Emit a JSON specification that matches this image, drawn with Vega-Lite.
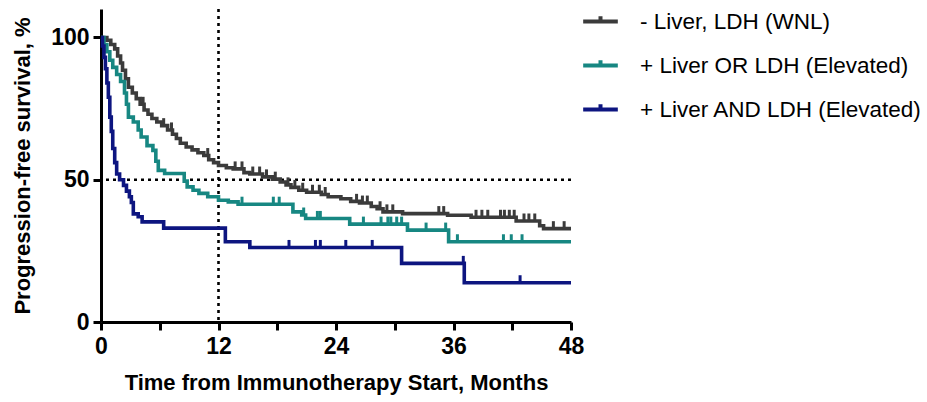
{
  "$schema": "https://vega.github.io/schema/vega-lite/v6.json",
  "autosize": "none",
  "width": 470,
  "height": 313,
  "padding": {"left": 101, "top": 9, "right": 356, "bottom": 80},
  "background": "white",
  "config": {
    "view": {"stroke": null},
    "font": "Liberation Sans",
    "axis": {
      "grid": false,
      "domainColor": "black",
      "domainWidth": 3,
      "tickColor": "black",
      "tickWidth": 3,
      "tickSize": 8,
      "labelFont": "Liberation Sans",
      "labelFontWeight": "bold",
      "labelFontSize": 23,
      "labelColor": "black",
      "titleFont": "Liberation Sans",
      "titleFontWeight": "bold",
      "titleFontSize": 22,
      "titleColor": "black"
    },
    "legend": {
      "labelFont": "Liberation Sans",
      "labelFontSize": 22.5,
      "labelColor": "black",
      "labelLimit": 400
    }
  },
  "datasets": {
    "curves": [
      {"group": "- Liver, LDH (WNL)", "month": 0, "surv": 100},
      {"group": "- Liver, LDH (WNL)", "month": 0.6, "surv": 99},
      {"group": "- Liver, LDH (WNL)", "month": 1.0, "surv": 97.5},
      {"group": "- Liver, LDH (WNL)", "month": 1.4, "surv": 96},
      {"group": "- Liver, LDH (WNL)", "month": 1.7, "surv": 93.5},
      {"group": "- Liver, LDH (WNL)", "month": 2.0, "surv": 91},
      {"group": "- Liver, LDH (WNL)", "month": 2.2, "surv": 88.5},
      {"group": "- Liver, LDH (WNL)", "month": 2.5, "surv": 85.5},
      {"group": "- Liver, LDH (WNL)", "month": 2.8, "surv": 82.5},
      {"group": "- Liver, LDH (WNL)", "month": 3.2, "surv": 80.5},
      {"group": "- Liver, LDH (WNL)", "month": 3.6, "surv": 78.5},
      {"group": "- Liver, LDH (WNL)", "month": 4.0, "surv": 76.5},
      {"group": "- Liver, LDH (WNL)", "month": 4.4, "surv": 74.5},
      {"group": "- Liver, LDH (WNL)", "month": 4.8, "surv": 73},
      {"group": "- Liver, LDH (WNL)", "month": 5.2, "surv": 71.5},
      {"group": "- Liver, LDH (WNL)", "month": 5.7, "surv": 70.3},
      {"group": "- Liver, LDH (WNL)", "month": 6.2, "surv": 69},
      {"group": "- Liver, LDH (WNL)", "month": 6.8, "surv": 67.5},
      {"group": "- Liver, LDH (WNL)", "month": 7.3, "surv": 66},
      {"group": "- Liver, LDH (WNL)", "month": 7.7, "surv": 64.5},
      {"group": "- Liver, LDH (WNL)", "month": 8.1, "surv": 62.8},
      {"group": "- Liver, LDH (WNL)", "month": 8.7, "surv": 61.5},
      {"group": "- Liver, LDH (WNL)", "month": 9.3, "surv": 60.5},
      {"group": "- Liver, LDH (WNL)", "month": 9.9, "surv": 59.5},
      {"group": "- Liver, LDH (WNL)", "month": 10.5, "surv": 58.5},
      {"group": "- Liver, LDH (WNL)", "month": 11.0, "surv": 57},
      {"group": "- Liver, LDH (WNL)", "month": 11.5, "surv": 56},
      {"group": "- Liver, LDH (WNL)", "month": 12.0, "surv": 55},
      {"group": "- Liver, LDH (WNL)", "month": 12.8, "surv": 54.2},
      {"group": "- Liver, LDH (WNL)", "month": 13.5, "surv": 53.8},
      {"group": "- Liver, LDH (WNL)", "month": 14.6, "surv": 52.5},
      {"group": "- Liver, LDH (WNL)", "month": 15.2, "surv": 52},
      {"group": "- Liver, LDH (WNL)", "month": 16.5, "surv": 51},
      {"group": "- Liver, LDH (WNL)", "month": 17.5, "surv": 50.2},
      {"group": "- Liver, LDH (WNL)", "month": 18.3, "surv": 49.2},
      {"group": "- Liver, LDH (WNL)", "month": 18.9, "surv": 48.2},
      {"group": "- Liver, LDH (WNL)", "month": 19.4, "surv": 47.3},
      {"group": "- Liver, LDH (WNL)", "month": 20.2, "surv": 46.3},
      {"group": "- Liver, LDH (WNL)", "month": 21.0, "surv": 45.6},
      {"group": "- Liver, LDH (WNL)", "month": 22.5, "surv": 44.8},
      {"group": "- Liver, LDH (WNL)", "month": 23.2, "surv": 44},
      {"group": "- Liver, LDH (WNL)", "month": 24.5, "surv": 43.3},
      {"group": "- Liver, LDH (WNL)", "month": 25.5, "surv": 42.4},
      {"group": "- Liver, LDH (WNL)", "month": 26.4, "surv": 41.8},
      {"group": "- Liver, LDH (WNL)", "month": 27.6, "surv": 40.6},
      {"group": "- Liver, LDH (WNL)", "month": 28.2, "surv": 39.8},
      {"group": "- Liver, LDH (WNL)", "month": 28.8, "surv": 38.7},
      {"group": "- Liver, LDH (WNL)", "month": 30.8, "surv": 38.1},
      {"group": "- Liver, LDH (WNL)", "month": 35.4, "surv": 37.5},
      {"group": "- Liver, LDH (WNL)", "month": 37.8, "surv": 36.8},
      {"group": "- Liver, LDH (WNL)", "month": 42.4, "surv": 35.5},
      {"group": "- Liver, LDH (WNL)", "month": 44.8, "surv": 33.8},
      {"group": "- Liver, LDH (WNL)", "month": 45.2, "surv": 32.8},
      {"group": "- Liver, LDH (WNL)", "month": 48, "surv": 32.8},
      {"group": "+ Liver OR LDH (Elevated)", "month": 0, "surv": 100},
      {"group": "+ Liver OR LDH (Elevated)", "month": 0.3, "surv": 97.5},
      {"group": "+ Liver OR LDH (Elevated)", "month": 0.6, "surv": 95},
      {"group": "+ Liver OR LDH (Elevated)", "month": 0.9, "surv": 92},
      {"group": "+ Liver OR LDH (Elevated)", "month": 1.2, "surv": 89.5},
      {"group": "+ Liver OR LDH (Elevated)", "month": 1.6, "surv": 87},
      {"group": "+ Liver OR LDH (Elevated)", "month": 2.0, "surv": 84.5},
      {"group": "+ Liver OR LDH (Elevated)", "month": 2.4, "surv": 80.5},
      {"group": "+ Liver OR LDH (Elevated)", "month": 2.6, "surv": 76.5},
      {"group": "+ Liver OR LDH (Elevated)", "month": 2.8, "surv": 72},
      {"group": "+ Liver OR LDH (Elevated)", "month": 3.3, "surv": 70.3},
      {"group": "+ Liver OR LDH (Elevated)", "month": 3.8, "surv": 67.5},
      {"group": "+ Liver OR LDH (Elevated)", "month": 4.1, "surv": 65},
      {"group": "+ Liver OR LDH (Elevated)", "month": 4.7, "surv": 62},
      {"group": "+ Liver OR LDH (Elevated)", "month": 5.3, "surv": 60.3},
      {"group": "+ Liver OR LDH (Elevated)", "month": 5.6, "surv": 56.5},
      {"group": "+ Liver OR LDH (Elevated)", "month": 5.85, "surv": 53.3},
      {"group": "+ Liver OR LDH (Elevated)", "month": 6.5, "surv": 52.2},
      {"group": "+ Liver OR LDH (Elevated)", "month": 8.5, "surv": 49.5},
      {"group": "+ Liver OR LDH (Elevated)", "month": 8.8, "surv": 47.5},
      {"group": "+ Liver OR LDH (Elevated)", "month": 9.4, "surv": 46.3},
      {"group": "+ Liver OR LDH (Elevated)", "month": 10.0, "surv": 45.2},
      {"group": "+ Liver OR LDH (Elevated)", "month": 10.9, "surv": 44},
      {"group": "+ Liver OR LDH (Elevated)", "month": 12.0, "surv": 42.8},
      {"group": "+ Liver OR LDH (Elevated)", "month": 13.0, "surv": 42.2},
      {"group": "+ Liver OR LDH (Elevated)", "month": 14.0, "surv": 41.4},
      {"group": "+ Liver OR LDH (Elevated)", "month": 19.6, "surv": 38.7},
      {"group": "+ Liver OR LDH (Elevated)", "month": 20.5, "surv": 37.6},
      {"group": "+ Liver OR LDH (Elevated)", "month": 20.9, "surv": 36.4},
      {"group": "+ Liver OR LDH (Elevated)", "month": 25.4, "surv": 34.4},
      {"group": "+ Liver OR LDH (Elevated)", "month": 31.3, "surv": 32.3},
      {"group": "+ Liver OR LDH (Elevated)", "month": 35.5, "surv": 28.2},
      {"group": "+ Liver OR LDH (Elevated)", "month": 48, "surv": 28.2},
      {"group": "+ Liver AND LDH (Elevated)", "month": 0, "surv": 100},
      {"group": "+ Liver AND LDH (Elevated)", "month": 0.15, "surv": 97},
      {"group": "+ Liver AND LDH (Elevated)", "month": 0.3, "surv": 93},
      {"group": "+ Liver AND LDH (Elevated)", "month": 0.45, "surv": 89},
      {"group": "+ Liver AND LDH (Elevated)", "month": 0.6, "surv": 84},
      {"group": "+ Liver AND LDH (Elevated)", "month": 0.75, "surv": 79},
      {"group": "+ Liver AND LDH (Elevated)", "month": 0.9, "surv": 72},
      {"group": "+ Liver AND LDH (Elevated)", "month": 1.05, "surv": 67},
      {"group": "+ Liver AND LDH (Elevated)", "month": 1.2, "surv": 61},
      {"group": "+ Liver AND LDH (Elevated)", "month": 1.4, "surv": 56},
      {"group": "+ Liver AND LDH (Elevated)", "month": 1.6, "surv": 52},
      {"group": "+ Liver AND LDH (Elevated)", "month": 1.9, "surv": 50},
      {"group": "+ Liver AND LDH (Elevated)", "month": 2.3, "surv": 48},
      {"group": "+ Liver AND LDH (Elevated)", "month": 2.6, "surv": 46},
      {"group": "+ Liver AND LDH (Elevated)", "month": 2.9, "surv": 44},
      {"group": "+ Liver AND LDH (Elevated)", "month": 3.1, "surv": 42},
      {"group": "+ Liver AND LDH (Elevated)", "month": 3.3, "surv": 38},
      {"group": "+ Liver AND LDH (Elevated)", "month": 3.8, "surv": 37},
      {"group": "+ Liver AND LDH (Elevated)", "month": 4.2, "surv": 35.2},
      {"group": "+ Liver AND LDH (Elevated)", "month": 6.4, "surv": 33},
      {"group": "+ Liver AND LDH (Elevated)", "month": 12.7, "surv": 28.2},
      {"group": "+ Liver AND LDH (Elevated)", "month": 15.2, "surv": 26.2},
      {"group": "+ Liver AND LDH (Elevated)", "month": 30.7, "surv": 20.6},
      {"group": "+ Liver AND LDH (Elevated)", "month": 37.1, "surv": 13.8},
      {"group": "+ Liver AND LDH (Elevated)", "month": 48, "surv": 13.8}
    ],
    "censors": [
      {"group": "- Liver, LDH (WNL)", "month": 4.3, "surv": 76.5},
      {"group": "- Liver, LDH (WNL)", "month": 6.4, "surv": 69},
      {"group": "- Liver, LDH (WNL)", "month": 7.2, "surv": 67.5},
      {"group": "- Liver, LDH (WNL)", "month": 10.9, "surv": 58.5},
      {"group": "- Liver, LDH (WNL)", "month": 13.7, "surv": 53.8},
      {"group": "- Liver, LDH (WNL)", "month": 14.4, "surv": 53.8},
      {"group": "- Liver, LDH (WNL)", "month": 15.5, "surv": 52},
      {"group": "- Liver, LDH (WNL)", "month": 16.2, "surv": 52},
      {"group": "- Liver, LDH (WNL)", "month": 16.9, "surv": 51},
      {"group": "- Liver, LDH (WNL)", "month": 17.8, "surv": 50.2},
      {"group": "- Liver, LDH (WNL)", "month": 19.1, "surv": 48.2},
      {"group": "- Liver, LDH (WNL)", "month": 19.8, "surv": 47.3},
      {"group": "- Liver, LDH (WNL)", "month": 20.6, "surv": 46.3},
      {"group": "- Liver, LDH (WNL)", "month": 21.6, "surv": 45.6},
      {"group": "- Liver, LDH (WNL)", "month": 22.3, "surv": 45.6},
      {"group": "- Liver, LDH (WNL)", "month": 22.9, "surv": 44.8},
      {"group": "- Liver, LDH (WNL)", "month": 26.1, "surv": 42.4},
      {"group": "- Liver, LDH (WNL)", "month": 26.7, "surv": 41.8},
      {"group": "- Liver, LDH (WNL)", "month": 27.2, "surv": 41.8},
      {"group": "- Liver, LDH (WNL)", "month": 28.5, "surv": 39.8},
      {"group": "- Liver, LDH (WNL)", "month": 29.2, "surv": 38.7},
      {"group": "- Liver, LDH (WNL)", "month": 29.8, "surv": 38.7},
      {"group": "- Liver, LDH (WNL)", "month": 34.5, "surv": 38.1},
      {"group": "- Liver, LDH (WNL)", "month": 35.0, "surv": 38.1},
      {"group": "- Liver, LDH (WNL)", "month": 38.3, "surv": 36.8},
      {"group": "- Liver, LDH (WNL)", "month": 38.9, "surv": 36.8},
      {"group": "- Liver, LDH (WNL)", "month": 39.5, "surv": 36.8},
      {"group": "- Liver, LDH (WNL)", "month": 40.8, "surv": 36.8},
      {"group": "- Liver, LDH (WNL)", "month": 41.2, "surv": 36.8},
      {"group": "- Liver, LDH (WNL)", "month": 41.7, "surv": 36.8},
      {"group": "- Liver, LDH (WNL)", "month": 42.2, "surv": 36.8},
      {"group": "- Liver, LDH (WNL)", "month": 43.2, "surv": 35.5},
      {"group": "- Liver, LDH (WNL)", "month": 43.7, "surv": 35.5},
      {"group": "- Liver, LDH (WNL)", "month": 44.3, "surv": 35.5},
      {"group": "- Liver, LDH (WNL)", "month": 46.2, "surv": 32.8},
      {"group": "- Liver, LDH (WNL)", "month": 47.3, "surv": 32.8},
      {"group": "+ Liver OR LDH (Elevated)", "month": 14.4, "surv": 41.4},
      {"group": "+ Liver OR LDH (Elevated)", "month": 17.6, "surv": 41.4},
      {"group": "+ Liver OR LDH (Elevated)", "month": 18.2, "surv": 41.4},
      {"group": "+ Liver OR LDH (Elevated)", "month": 20.7, "surv": 37.6},
      {"group": "+ Liver OR LDH (Elevated)", "month": 22.1, "surv": 36.4},
      {"group": "+ Liver OR LDH (Elevated)", "month": 22.4, "surv": 36.4},
      {"group": "+ Liver OR LDH (Elevated)", "month": 26.8, "surv": 34.4},
      {"group": "+ Liver OR LDH (Elevated)", "month": 28.6, "surv": 34.4},
      {"group": "+ Liver OR LDH (Elevated)", "month": 29.3, "surv": 34.4},
      {"group": "+ Liver OR LDH (Elevated)", "month": 29.6, "surv": 34.4},
      {"group": "+ Liver OR LDH (Elevated)", "month": 30.2, "surv": 34.4},
      {"group": "+ Liver OR LDH (Elevated)", "month": 30.7, "surv": 34.4},
      {"group": "+ Liver OR LDH (Elevated)", "month": 33.2, "surv": 32.3},
      {"group": "+ Liver OR LDH (Elevated)", "month": 35.2, "surv": 32.3},
      {"group": "+ Liver OR LDH (Elevated)", "month": 36.4, "surv": 28.2},
      {"group": "+ Liver OR LDH (Elevated)", "month": 41.1, "surv": 28.2},
      {"group": "+ Liver OR LDH (Elevated)", "month": 41.9, "surv": 28.2},
      {"group": "+ Liver OR LDH (Elevated)", "month": 43.0, "surv": 28.2},
      {"group": "+ Liver AND LDH (Elevated)", "month": 19.2, "surv": 26.2},
      {"group": "+ Liver AND LDH (Elevated)", "month": 21.9, "surv": 26.2},
      {"group": "+ Liver AND LDH (Elevated)", "month": 22.4, "surv": 26.2},
      {"group": "+ Liver AND LDH (Elevated)", "month": 25.0, "surv": 26.2},
      {"group": "+ Liver AND LDH (Elevated)", "month": 27.7, "surv": 26.2},
      {"group": "+ Liver AND LDH (Elevated)", "month": 37.0, "surv": 20.6},
      {"group": "+ Liver AND LDH (Elevated)", "month": 42.8, "surv": 13.8}
    ],
    "refs": [{"hline": 50, "vline": 12}]
  },
  "layer": [
    {
      "data": {"name": "refs"},
      "mark": {"type": "rule", "strokeDash": [3, 4], "strokeWidth": 2.6, "color": "black"},
      "encoding": {"y": {"field": "hline", "type": "quantitative"}}
    },
    {
      "data": {"name": "refs"},
      "mark": {"type": "rule", "strokeDash": [3, 4], "strokeWidth": 2.6, "color": "black"},
      "encoding": {"x": {"field": "vline", "type": "quantitative"}}
    },
    {
      "data": {"name": "curves"},
      "mark": {"type": "line", "interpolate": "step-after", "strokeWidth": 3.6},
      "encoding": {
        "x": {
          "field": "month", "type": "quantitative",
          "scale": {"domain": [0, 48], "nice": false},
          "axis": {
            "values": [0, 6, 12, 18, 24, 30, 36, 42, 48],
            "labelExpr": "datum.value % 12 === 0 ? datum.label : ''",
            "title": "Time from Immunotherapy Start, Months",
            "titlePadding": 14,
            "labelPadding": 5,
            "labelFlush": false
          }
        },
        "y": {
          "field": "surv", "type": "quantitative",
          "scale": {"domain": [0, 110], "nice": false},
          "axis": {
            "values": [0, 50, 100],
            "title": "Progression-free survival, %",
            "titlePadding": 16,
            "labelPadding": 4
          }
        },
        "color": {
          "field": "group", "type": "nominal",
          "scale": {
            "domain": ["- Liver, LDH (WNL)", "+ Liver OR LDH (Elevated)", "+ Liver AND LDH (Elevated)"],
            "range": ["#3b3b3b", "#178782", "#0d1580"]
          },
          "legend": {
            "title": null,
            "orient": "none",
            "legendX": 480,
            "legendY": -7,
            "symbolType": "M-1,0L1,0M0,0L0,-0.3",
            "symbolSize": 1200,
            "symbolStrokeWidth": 4,
            "labelOffset": 20,
            "rowPadding": 13
          }
        }
      }
    },
    {
      "data": {"name": "censors"},
      "mark": {"type": "tick", "orient": "vertical", "size": 8, "thickness": 3, "yOffset": -3.5, "opacity": 1},
      "encoding": {
        "x": {"field": "month", "type": "quantitative"},
        "y": {"field": "surv", "type": "quantitative"},
        "color": {"field": "group", "type": "nominal", "legend": null}
      }
    }
  ]
}
